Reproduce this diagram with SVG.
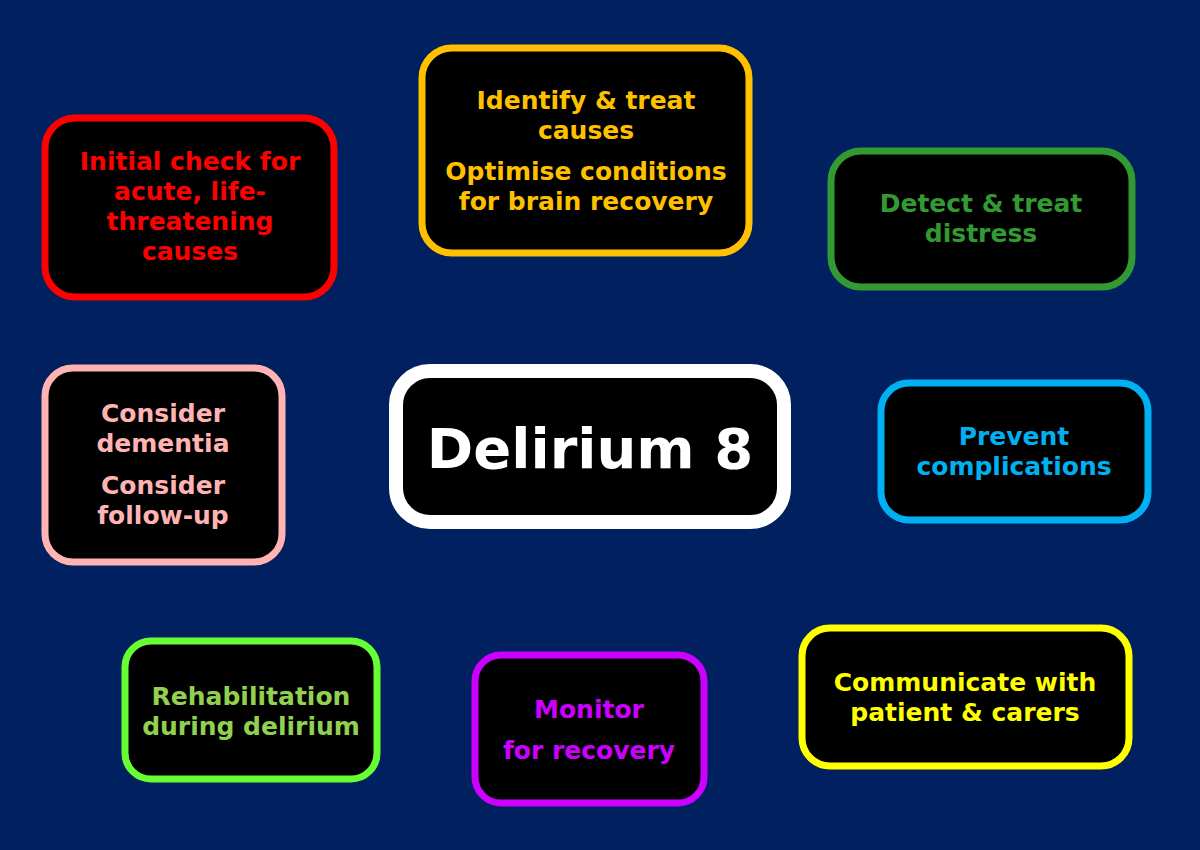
<svg xmlns="http://www.w3.org/2000/svg" width="1200" height="850" viewBox="0 0 1200 850">
<style>
.b{fill:#000;stroke-width:7}
text{font-family:"DejaVu Sans","Verdana",sans-serif;font-weight:bold;font-size:25px;text-anchor:middle}
</style>
<rect width="1200" height="850" fill="#002060"/>
<g id="n1"><rect class="b" x="45" y="118" width="289" height="179" rx="30" stroke="#ff0000"/>
<g fill="#ff0000"><text x="190" y="170">Initial check for</text><text x="190" y="200">acute, life-</text><text x="190" y="230">threatening</text><text x="190" y="260">causes</text></g></g>
<g id="n2"><rect class="b" x="422" y="48" width="327" height="205" rx="30" stroke="#ffc000"/>
<g fill="#ffc000"><text x="586" y="109">Identify &amp; treat</text><text x="586" y="139">causes</text><text x="586" y="180">Optimise conditions</text><text x="586" y="210">for brain recovery</text></g></g>
<g id="n3"><rect class="b" x="831" y="151" width="301" height="136" rx="30" stroke="#339933"/>
<g fill="#339933"><text x="981" y="212">Detect &amp; treat</text><text x="981" y="242">distress</text></g></g>
<g id="n4"><rect class="b" x="45" y="368" width="237" height="194" rx="28" stroke="#ffb3b3"/>
<g fill="#ffb3b3"><text x="163" y="422">Consider</text><text x="163" y="452">dementia</text><text x="163" y="494">Consider</text><text x="163" y="524">follow-up</text></g></g>
<g id="center"><rect x="396" y="371" width="388" height="151" rx="34" fill="#000" stroke="#fff" stroke-width="14"/>
<text x="590" y="468" fill="#fff" style="font-size:56px">Delirium 8</text></g>
<g id="n5"><rect class="b" x="881" y="383" width="267" height="137" rx="28" stroke="#00b0f0"/>
<g fill="#00b0f0"><text x="1014" y="445">Prevent</text><text x="1014" y="475">complications</text></g></g>
<g id="n6"><rect class="b" x="125" y="641" width="252" height="138" rx="26" stroke="#66ff33"/>
<g fill="#92d050"><text x="251" y="705">Rehabilitation</text><text x="251" y="735">during delirium</text></g></g>
<g id="n7"><rect class="b" x="475" y="655" width="229" height="148" rx="26" stroke="#cc00ff"/>
<g fill="#cc00ff"><text x="589" y="718">Monitor</text><text x="589" y="759">for recovery</text></g></g>
<g id="n8"><rect class="b" x="802" y="628" width="327" height="138" rx="28" stroke="#ffff00"/>
<g fill="#ffff00"><text x="965" y="691">Communicate with</text><text x="965" y="721">patient &amp; carers</text></g></g>
<g id="connectors"/>
</svg>
